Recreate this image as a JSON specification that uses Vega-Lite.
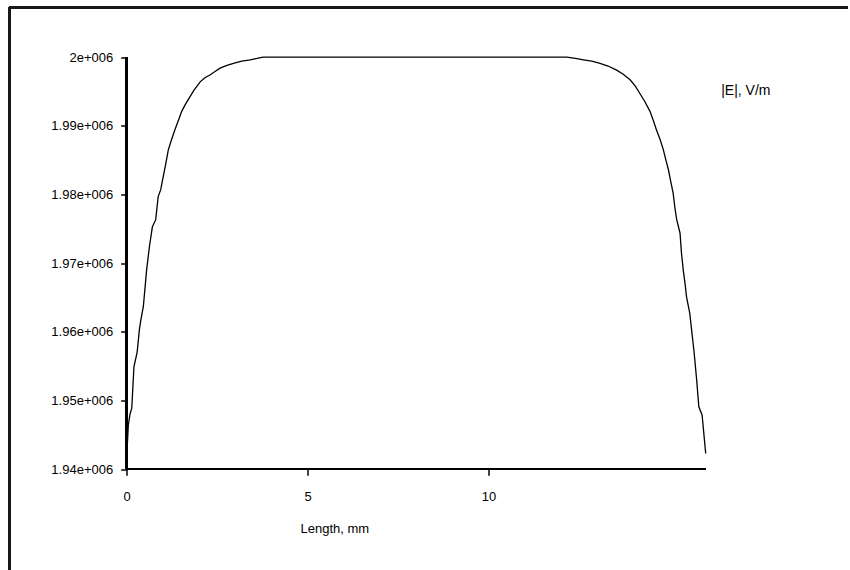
{
  "$schema": "https://vega.github.io/schema/vega-lite/v6.json",
  "width": 838.5,
  "height": 562.5,
  "padding": {"left": 9.5, "top": 7.5, "right": 0, "bottom": 0},
  "autosize": {"type": "none"},
  "background": "white",
  "config": {
    "font": "Liberation Sans",
    "view": {"stroke": null}
  },
  "data": {
    "values": [
      {"length": 0.0, "E": 1941800},
      {"length": 0.045, "E": 1946450},
      {"length": 0.09, "E": 1948000},
      {"length": 0.14, "E": 1948900},
      {"length": 0.2, "E": 1954900},
      {"length": 0.29, "E": 1957100},
      {"length": 0.35, "E": 1960300},
      {"length": 0.39, "E": 1961700},
      {"length": 0.46, "E": 1963700},
      {"length": 0.55, "E": 1969000},
      {"length": 0.63, "E": 1972500},
      {"length": 0.71, "E": 1975300},
      {"length": 0.8, "E": 1976300},
      {"length": 0.87, "E": 1979700},
      {"length": 0.94, "E": 1980700},
      {"length": 0.99, "E": 1982100},
      {"length": 1.07, "E": 1984200},
      {"length": 1.15, "E": 1986500},
      {"length": 1.24, "E": 1988000},
      {"length": 1.33, "E": 1989400},
      {"length": 1.43, "E": 1990800},
      {"length": 1.52, "E": 1992100},
      {"length": 1.61, "E": 1993000},
      {"length": 1.7, "E": 1993800},
      {"length": 1.86, "E": 1995200},
      {"length": 2.03, "E": 1996400},
      {"length": 2.16, "E": 1997000},
      {"length": 2.3, "E": 1997400},
      {"length": 2.44, "E": 1997900},
      {"length": 2.58, "E": 1998400},
      {"length": 2.77, "E": 1998800},
      {"length": 2.95, "E": 1999100},
      {"length": 3.18, "E": 1999400},
      {"length": 3.41, "E": 1999600},
      {"length": 3.6, "E": 1999800},
      {"length": 3.77, "E": 2000000},
      {"length": 5.0, "E": 2000000},
      {"length": 7.0, "E": 2000000},
      {"length": 9.0, "E": 2000000},
      {"length": 11.0, "E": 2000000},
      {"length": 12.16, "E": 2000000},
      {"length": 12.4, "E": 1999800},
      {"length": 12.62, "E": 1999600},
      {"length": 12.85, "E": 1999400},
      {"length": 13.08, "E": 1999100},
      {"length": 13.3, "E": 1998700},
      {"length": 13.54, "E": 1998100},
      {"length": 13.72, "E": 1997500},
      {"length": 13.91, "E": 1996700},
      {"length": 14.05, "E": 1995800},
      {"length": 14.18, "E": 1994700},
      {"length": 14.32, "E": 1993500},
      {"length": 14.46, "E": 1992100},
      {"length": 14.55, "E": 1990800},
      {"length": 14.64, "E": 1989400},
      {"length": 14.74, "E": 1988000},
      {"length": 14.83, "E": 1986500},
      {"length": 14.9, "E": 1985000},
      {"length": 14.97, "E": 1983600},
      {"length": 15.03, "E": 1982000},
      {"length": 15.1, "E": 1980200},
      {"length": 15.15, "E": 1978000},
      {"length": 15.2, "E": 1976300},
      {"length": 15.29, "E": 1974400},
      {"length": 15.33, "E": 1971500},
      {"length": 15.38, "E": 1969000},
      {"length": 15.43, "E": 1967000},
      {"length": 15.47, "E": 1965100},
      {"length": 15.56, "E": 1962700},
      {"length": 15.61, "E": 1960300},
      {"length": 15.68, "E": 1957000},
      {"length": 15.75, "E": 1953000},
      {"length": 15.81, "E": 1949100},
      {"length": 15.9, "E": 1947900},
      {"length": 16.0, "E": 1942300}
    ]
  },
  "layer": [
    {
      "mark": {"type": "line", "strokeWidth": 1.3, "color": "black"},
      "encoding": {
        "x": {
          "field": "length",
          "type": "quantitative",
          "scale": {"domain": [-3.2387, 19.932], "nice": false, "zero": false},
          "axis": {
            "values": [0, 5, 10],
            "offset": -100.7,
            "domain": false,
            "grid": false,
            "ticks": true,
            "tickColor": "black",
            "tickWidth": 1.5,
            "tickSize": 6,
            "labelFont": "Liberation Sans",
            "labelFontSize": 13,
            "labelColor": "black",
            "labelPadding": 15,
            "title": "Length, mm",
            "titleFont": "Liberation Sans",
            "titleFontSize": 13,
            "titleFontWeight": "normal",
            "titleColor": "black",
            "titleAlign": "left",
            "titleBaseline": "alphabetic",
            "titleAngle": 0,
            "titleX": 290.5,
            "titleY": 62.7
          }
        },
        "y": {
          "field": "E",
          "type": "quantitative",
          "scale": {"domain": [1925342, 2007220], "nice": false, "zero": false},
          "axis": {
            "values": [1940000, 1950000, 1960000, 1970000, 1980000, 1990000, 2000000],
            "labelExpr": "replace(format(datum.value, '.3~e'), 'e+6', 'e+006')",
            "offset": -117.2,
            "domain": false,
            "grid": false,
            "tickColor": "black",
            "tickWidth": 1.5,
            "tickSize": 6,
            "labelFont": "Liberation Sans",
            "labelFontSize": 13,
            "labelColor": "black",
            "labelPadding": 8,
            "title": "|E|, V/m",
            "titleFont": "Liberation Sans",
            "titleFontSize": 14,
            "titleFontWeight": "normal",
            "titleColor": "black",
            "titleAngle": 0,
            "titleAlign": "left",
            "titleBaseline": "middle",
            "titleX": 594,
            "titleY": 83
          }
        }
      }
    },
    {
      "mark": {"type": "rule", "color": "black", "strokeWidth": 1.5},
      "encoding": {
        "x": {"datum": 0, "type": "quantitative"},
        "x2": {"datum": 16},
        "y": {"datum": 1940000, "type": "quantitative"}
      }
    },
    {
      "mark": {"type": "rule", "color": "black", "strokeWidth": 1.5},
      "encoding": {
        "x": {"datum": 0, "type": "quantitative"},
        "y": {"datum": 1940000, "type": "quantitative"},
        "y2": {"datum": 2000000}
      }
    },
    {
      "mark": {"type": "rule", "color": "#1a1a1a", "strokeWidth": 1.5},
      "encoding": {
        "x": {"datum": -3.2387, "type": "quantitative"},
        "x2": {"datum": 19.932},
        "y": {"datum": 2007220, "type": "quantitative"}
      }
    },
    {
      "mark": {"type": "rule", "color": "#1a1a1a", "strokeWidth": 1.5},
      "encoding": {
        "x": {"datum": -3.2387, "type": "quantitative"},
        "y": {"datum": 1925342, "type": "quantitative"},
        "y2": {"datum": 2007220}
      }
    }
  ]
}
